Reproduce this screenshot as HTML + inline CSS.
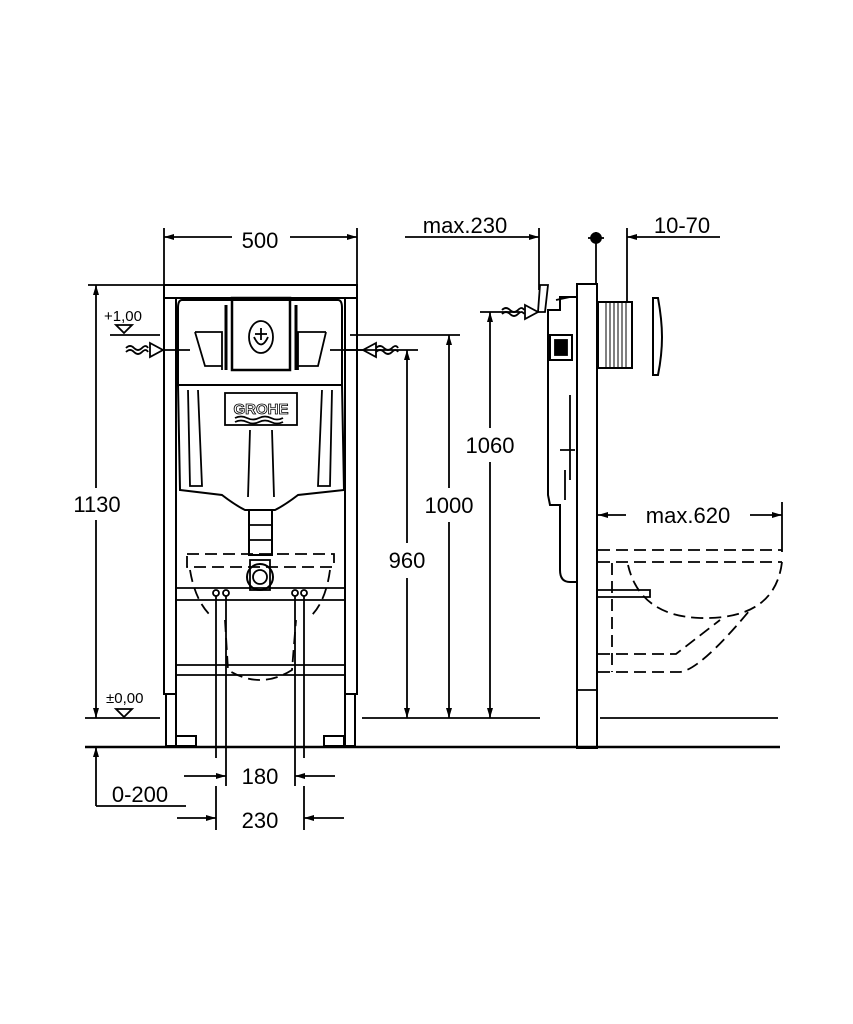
<!DOCTYPE html>
<html><head><meta charset="utf-8"><style>
html,body{margin:0;padding:0;background:#fff}
svg{display:block}
text{font-family:"Liberation Sans",sans-serif;font-size:22px;fill:#000}
.t{font-size:15px}
</style></head><body>
<svg width="853" height="1024" viewBox="0 0 853 1024" xmlns="http://www.w3.org/2000/svg">
<defs>
<marker id="a" viewBox="0 0 10 6" refX="10" refY="3" markerWidth="14" markerHeight="6" markerUnits="userSpaceOnUse" orient="auto-start-reverse"><path d="M0,0L10,3L0,6z"/></marker>
</defs>
<g fill="none" stroke="#000" stroke-width="1.8">
<line x1="85" y1="747" x2="780" y2="747" stroke-width="2.5"/>
<rect x="164" y="285" width="193" height="13" stroke-width="2"/>
<rect x="164" y="298" width="12" height="396" stroke-width="2"/>
<rect x="345" y="298" width="12" height="396" stroke-width="2"/>
<rect x="166" y="694" width="10" height="52" stroke-width="2"/>
<rect x="345" y="694" width="10" height="52" stroke-width="2"/>
<rect x="176" y="736" width="20" height="10" stroke-width="2"/>
<rect x="324" y="736" width="20" height="10" stroke-width="2"/>
<path d="M182,300 H338 Q342,300 342,308 V385 H178 V308 Q178,300 182,300Z" stroke-width="2"/>
<path d="M178,385 H342 L344,490 L298,495 Q285,505 275,510 H245 Q235,505 222,495 L180,490Z" stroke-width="2"/>
<rect x="232" y="298" width="58" height="72" stroke-width="2.5"/>
<ellipse cx="261" cy="337" rx="12" ry="16"/>
<path d="M254,337 Q261,352 268,337"/>
<line x1="255" y1="334" x2="267" y2="334"/><line x1="261" y1="328" x2="261" y2="340"/>
<line x1="226" y1="305" x2="226" y2="370" stroke-width="3"/><line x1="296" y1="305" x2="296" y2="370" stroke-width="3"/>
<path d="M195,332 H222 V370 M326,332 H298 V370"/>
<path d="M195,332 L205,366 H222 M326,332 L318,366 H298"/>
<rect x="225" y="393" width="72" height="32"/>
<path d="M235,418 q6,-3 12,0 t12,0 t12,0 t12,0 M235,422 q6,-3 12,0 t12,0 t12,0 t12,0"/>
<path d="M250,430 L248,497 M272,430 L274,497"/>
<path d="M188,390 L190,486 H202 L198,390 M332,390 L330,486 H318 L322,390"/>
<rect x="249" y="510" width="23" height="45" stroke-width="2"/>
<line x1="249" y1="525" x2="272" y2="525"/><line x1="249" y1="540" x2="272" y2="540"/>
<circle cx="260" cy="577" r="13" stroke-width="2"/><circle cx="260" cy="577" r="7"/>
<rect x="250" y="560" width="20" height="30"/>
<g stroke-dasharray="12,6">
<path d="M187,554 H334 V567 H187Z"/>
<path d="M190,570 Q195,600 210,615 M330,570 Q326,600 312,615"/>
<path d="M225,620 L228,670 Q260,690 292,670 L296,620"/>
</g>
<line x1="176" y1="588" x2="345" y2="588"/><line x1="176" y1="600" x2="345" y2="600"/>
<line x1="176" y1="665" x2="345" y2="665"/><line x1="176" y1="675" x2="345" y2="675"/>
<circle cx="216" cy="593" r="3"/><circle cx="226" cy="593" r="3"/><circle cx="295" cy="593" r="3"/><circle cx="304" cy="593" r="3"/>
<line x1="216" y1="596" x2="216" y2="758"/><line x1="226" y1="596" x2="226" y2="786"/>
<line x1="295" y1="596" x2="295" y2="786"/><line x1="304" y1="596" x2="304" y2="758"/>
<line x1="216" y1="786" x2="216" y2="830"/><line x1="304" y1="786" x2="304" y2="830"/>
<path d="M126,352 q4,-4 8,0 t8,0 t6,0 M126,348 q4,-4 8,0 t8,0 t6,0"/>
<path d="M150,343 L163,350 L150,357Z"/><line x1="163" y1="350" x2="190" y2="350"/>
<path d="M376,343 L363,350 L376,357Z"/><path d="M376,352 q4,-4 8,0 t8,0 t6,0 M376,348 q4,-4 8,0 t8,0 t6,0"/>
<line x1="330" y1="350" x2="363" y2="350"/>
<line x1="110" y1="335" x2="160" y2="335"/><path d="M116,325 H132 L124,333Z"/>
<line x1="85" y1="718" x2="160" y2="718"/><path d="M116,709 H132 L124,717Z"/>
<line x1="164" y1="228" x2="164" y2="285"/><line x1="357" y1="228" x2="357" y2="285"/>
<line x1="164" y1="237" x2="232" y2="237" marker-start="url(#a)"/><line x1="290" y1="237" x2="357" y2="237" marker-end="url(#a)"/>
<line x1="88" y1="285" x2="164" y2="285"/>
<line x1="96" y1="285" x2="96" y2="488" marker-start="url(#a)"/><line x1="96" y1="520" x2="96" y2="718" marker-end="url(#a)"/>
<line x1="96" y1="806" x2="96" y2="747" marker-end="url(#a)"/><line x1="96" y1="806" x2="186" y2="806"/>
<line x1="184" y1="776" x2="226" y2="776" marker-end="url(#a)"/><line x1="335" y1="776" x2="295" y2="776" marker-end="url(#a)"/>
<line x1="177" y1="818" x2="216" y2="818" marker-end="url(#a)"/><line x1="344" y1="818" x2="304" y2="818" marker-end="url(#a)"/>
<line x1="362" y1="718" x2="540" y2="718"/><line x1="600" y1="718" x2="778" y2="718"/>
<line x1="345" y1="350" x2="418" y2="350"/><line x1="350" y1="335" x2="460" y2="335"/><line x1="480" y1="312" x2="520" y2="312"/>
<line x1="407" y1="350" x2="407" y2="543" marker-start="url(#a)"/><line x1="407" y1="578" x2="407" y2="718" marker-end="url(#a)"/>
<line x1="449" y1="335" x2="449" y2="488" marker-start="url(#a)"/><line x1="449" y1="522" x2="449" y2="718" marker-end="url(#a)"/>
<line x1="490" y1="312" x2="490" y2="428" marker-start="url(#a)"/><line x1="490" y1="462" x2="490" y2="718" marker-end="url(#a)"/>
<line x1="405" y1="237" x2="539" y2="237" marker-end="url(#a)"/><line x1="539" y1="228" x2="539" y2="290"/>
<line x1="596" y1="232" x2="596" y2="285"/><circle cx="596" cy="238" r="5" fill="#000"/><line x1="588" y1="238" x2="604" y2="238"/>
<line x1="627" y1="228" x2="627" y2="302"/><line x1="720" y1="237" x2="627" y2="237" marker-end="url(#a)"/>
<line x1="626" y1="515" x2="598" y2="515" marker-end="url(#a)"/><line x1="750" y1="515" x2="782" y2="515" marker-end="url(#a)"/>
<line x1="782" y1="502" x2="782" y2="552"/>
<rect x="577" y="284" width="20" height="464" stroke-width="2"/>
<line x1="577" y1="690" x2="597" y2="690"/>
<path d="M577,297 H560 V310 H548 V495 L550,505 H560 V570 Q560,582 570,582 H577" stroke-width="2"/>
<path d="M556,300 L570,297 M560,450 H575 M565,470 V500 M570,395 V480"/>
<rect x="550" y="335" width="22" height="25" stroke-width="2"/><rect x="555" y="340" width="12" height="15" fill="#000"/>
<path d="M540,285 H548 L545,312 H538Z"/>
<path d="M502,314 q4,-4 8,0 t8,0 t6,0 M502,310 q4,-4 8,0 t8,0 t6,0"/><path d="M525,305 L538,312 L525,319Z"/>
<rect x="598" y="302" width="34" height="66" stroke-width="2"/>
<g stroke-width="1"><line x1="606" y1="302" x2="606" y2="368"/><line x1="610" y1="302" x2="610" y2="368"/><line x1="614" y1="302" x2="614" y2="368"/><line x1="618" y1="302" x2="618" y2="368"/><line x1="622" y1="302" x2="622" y2="368"/><line x1="626" y1="302" x2="626" y2="368"/></g>
<path d="M653,298 H658 Q662,320 662,337 Q662,355 658,375 H653Z" stroke-width="2"/>
<g stroke-dasharray="12,6">
<line x1="598" y1="550" x2="782" y2="550"/><line x1="598" y1="562" x2="782" y2="562"/>
<path d="M782,562 Q775,620 700,618 Q640,616 628,565"/>
<path d="M612,563 V672 M598,654 H676 L720,620 M598,672 H680 Q700,670 750,610"/>
</g>
<path d="M598,590 H650 V597 H598"/>
</g>
<g>
<text x="260" y="248" text-anchor="middle">500</text>
<text x="97" y="512" text-anchor="middle">1130</text>
<text x="407" y="568" text-anchor="middle">960</text>
<text x="449" y="513" text-anchor="middle">1000</text>
<text x="490" y="453" text-anchor="middle">1060</text>
<text x="465" y="233" text-anchor="middle">max.230</text>
<text x="682" y="233" text-anchor="middle">10-70</text>
<text x="688" y="523" text-anchor="middle">max.620</text>
<text x="260" y="784" text-anchor="middle">180</text>
<text x="260" y="828" text-anchor="middle">230</text>
<text x="140" y="802" text-anchor="middle">0-200</text>
<text class="t" x="104" y="321">+1,00</text>
<text class="t" x="106" y="703">±0,00</text>
<text x="261" y="414" text-anchor="middle" style="font-size:15px;font-weight:bold;fill:#fff;stroke:#000;stroke-width:0.8">GROHE</text>
</g>
</svg>
</body></html>
